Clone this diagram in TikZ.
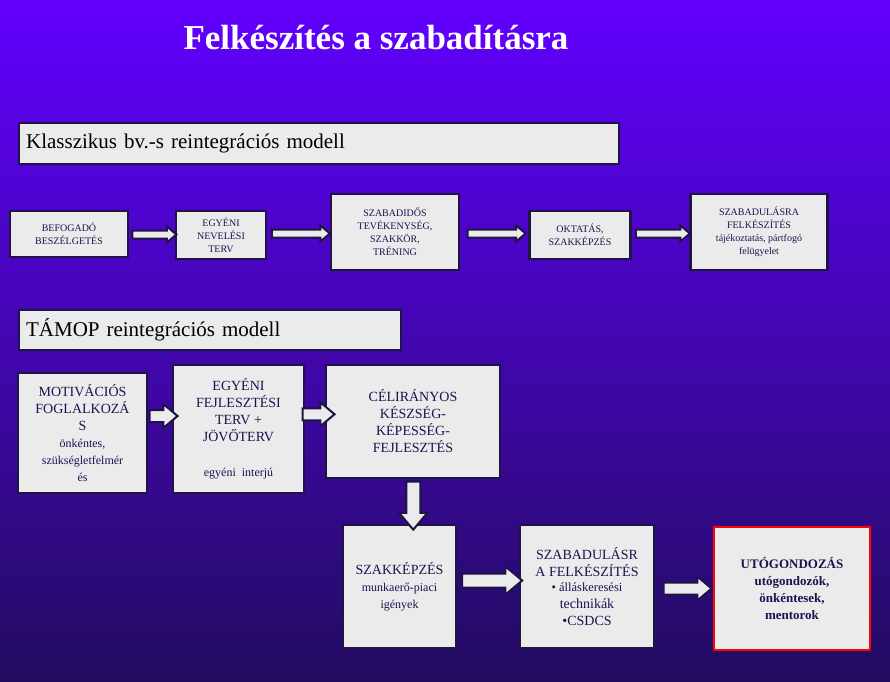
\documentclass[tikz,border=0pt]{standalone}
\usepackage{fontspec}
\setmainfont{Liberation Serif}
\usetikzlibrary{shapes.arrows,calc}
\definecolor{bgtop}{RGB}{98,0,255}
\definecolor{bgbot}{RGB}{34,12,96}
\definecolor{boxfill}{RGB}{235,235,235}
\definecolor{boxline}{RGB}{30,20,70}
\definecolor{boxtext}{RGB}{25,20,80}
\tikzset{
  stepbox/.style={draw=boxline, line width=2.2pt, fill=boxfill, text=boxtext,
    align=center, inner sep=2pt},
  headbox/.style={draw=boxline, line width=2.2pt, fill=boxfill, text=black,
    anchor=north west, inner sep=0pt, font=\fontsize{21}{24}\selectfont},
  flow/.style={single arrow, draw=boxline, line width=2pt, fill=boxfill,
    minimum height=#1, single arrow head extend=4pt, inner sep=3pt,
    single arrow tip angle=80, anchor=center},
}
\begin{document}
\begin{tikzpicture}[x=1pt,y=-1pt]
  \shade[top color=bgtop, bottom color=bgbot] (0,0) rectangle (890,681);
  \useasboundingbox (0,0) rectangle (890,681);
  \node[text=white, font=\bfseries\fontsize{35}{40}\selectfont] (title) at (376,38) {Felkészítés a szabadításra};

  % klasszikus modell
  \node[headbox, minimum width=600pt, minimum height=41pt, text width=590pt] (head1) at (18,122) {\hspace*{2pt}Klasszikus bv.-s reintegrációs modell};
  \begin{scope}[font=\fontsize{10}{13}\selectfont]
    \node[stepbox, minimum width=118pt, minimum height=46pt] (b1) at (69,234) {BEFOGADÓ\\BESZÉLGETÉS};
    \node[stepbox, minimum width=90pt, minimum height=48pt] (b2) at (221,235) {EGYÉNI\\NEVELÉSI\\TERV};
    \node[stepbox, minimum width=128pt, minimum height=76pt] (b3) at (395,232) {SZABADIDŐS\\TEVÉKENYSÉG,\\SZAKKÖR,\\TRÉNING};
    \node[stepbox, minimum width=101pt, minimum height=48pt] (b4) at (580,235) {OKTATÁS,\\SZAKKÉPZÉS};
    \node[stepbox, minimum width=137pt, minimum height=76pt] (b5) at (759,232) {SZABADULÁSRA\\FELKÉSZÍTÉS\\tájékoztatás, pártfogó\\felügyelet};
  \end{scope}
  \node[flow=44pt] (a1) at ($(b1.east)!0.5!(b2.west)$) {};
  \node[flow=58pt] (a2) at ($(b2.east)!0.5!(b3.west)$) {};
  \node[flow=58pt] (a3) at ($(b3.east)!0.5!(b4.west)$) {};
  \node[flow=54pt] (a4) at ($(b4.east)!0.5!(b5.west)$) {};

  % TAMOP modell
  \node[headbox, minimum width=382pt, minimum height=40pt, text width=372pt] (head2) at (18,309) {\hspace*{2pt}TÁMOP reintegrációs modell};
  \begin{scope}[font=\fontsize{14}{17}\selectfont]
    \node[stepbox, minimum width=129pt, minimum height=120pt] (c1) at (82.5,433) {MOTIVÁCIÓS\\FOGLALKOZÁ\\S\\{\fontsize{12}{15}\selectfont önkéntes,}\\{\fontsize{12}{15}\selectfont szükségletfelmér}\\{\fontsize{12}{15}\selectfont és}};
    \node[stepbox, minimum width=131pt, minimum height=128pt] (c2) at (238.5,429) {EGYÉNI\\FEJLESZTÉSI\\TERV +\\JÖVŐTERV\\[18pt]{\fontsize{12}{15}\selectfont egyéni\ \ interjú}};
    \node[stepbox, minimum width=174pt, minimum height=113pt] (c3) at (413,421.5) {CÉLIRÁNYOS\\KÉSZSÉG-\\KÉPESSÉG-\\FEJLESZTÉS};
    \node[stepbox, minimum width=113pt, minimum height=123pt] (d1) at (399.5,586.5) {SZAKKÉPZÉS\\{\fontsize{12}{15}\selectfont munkaerő-piaci}\\{\fontsize{12}{15}\selectfont igények}};
    \node[stepbox, minimum width=134pt, minimum height=123pt] (d2) at (587,586.5) {SZABADULÁSR\\A FELKÉSZÍTÉS\\[-2pt]\fontsize{12.5}{15}\selectfont • álláskeresési\\technikák\\•CSDCS};
    \node[stepbox, draw=red, minimum width=156pt, minimum height=123pt, font=\bfseries\fontsize{13}{17}\selectfont] (d3) at (792,588.5) {UTÓGONDOZÁS\\utógondozók,\\önkéntesek,\\mentorok};
  \end{scope}
  \node[flow=28pt, minimum width=24pt] (a5) at ($(c1.east)!0.5!(c2.west)+(0,-15)$) {};
  \node[flow=32pt, minimum width=24pt] (a6) at ($(c2.east)!0.5!(c3.west)+(0,-11)$) {};
  \node[flow=48pt, minimum width=28pt, rotate=-90] (a7) at ($(c3.south)!0.5!(d1.north)+(7,0)$) {};
  \node[flow=60pt, minimum width=28pt] (a8) at ($(d1.east)!0.5!(d2.west)+(0,-6)$) {};
  \node[flow=48pt, minimum width=24pt] (a9) at ($(d2.east)!0.5!(d3.west)+(0,1)$) {};
\end{tikzpicture}
\end{document}
